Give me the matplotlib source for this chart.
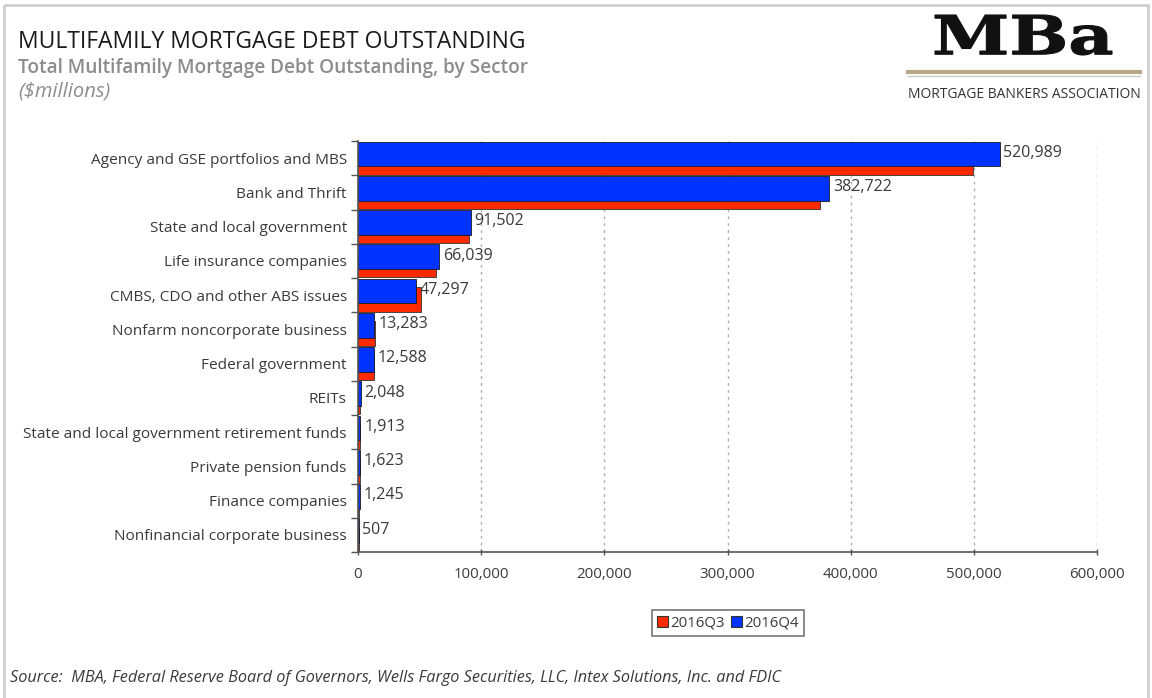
import matplotlib
matplotlib.use("Agg")
import matplotlib.pyplot as plt
from matplotlib.patches import Rectangle, PathPatch
from matplotlib.lines import Line2D
from matplotlib.textpath import TextPath
from matplotlib.font_manager import FontProperties
from matplotlib.transforms import Affine2D
import numpy as np

plt.rcParams['font.family'] = ['Open Sans', 'DejaVu Sans']

sectors = [
    "Agency and GSE portfolios and MBS",
    "Bank and Thrift",
    "State and local government",
    "Life insurance companies",
    "CMBS, CDO and other ABS issues",
    "Nonfarm noncorporate business",
    "Federal government",
    "REITs",
    "State and local government retirement funds",
    "Private pension funds",
    "Finance companies",
    "Nonfinancial corporate business",
]
q3_2016 = [499500, 374800, 90500, 63500, 51500, 13700, 12700, 1950, 1900, 1650, 1200, 500]
q4_2016 = [520989, 382722, 91502, 66039, 47297, 13283, 12588, 2048, 1913, 1623, 1245, 507]
series_names = ["2016Q3", "2016Q4"]
x_ticks = [0, 100000, 200000, 300000, 400000, 500000, 600000]

RED = "#ff2a00"
BLUE = "#0033ff"
TEXT = "#3a3a3a"

W, H = 1152, 698
fig = plt.figure(figsize=(W / 100, H / 100), dpi=100)
fig.patch.set_facecolor("white")

# outer frame, pixel coordinates with y pointing down
frame = fig.add_axes([0, 0, 1, 1])
frame.set_xlim(0, W)
frame.set_ylim(H, 0)
frame.axis("off")
frame.add_patch(Rectangle((4, 5), 1144, 700, fill=False, edgecolor="#cfcfcf", lw=2))

# plot area
x0, x1, ytop, ybot = 358, 1097, 141, 552
ax = fig.add_axes([x0 / W, 1 - ybot / H, (x1 - x0) / W, (ybot - ytop) / H])

n = len(sectors)
pos = np.arange(n)
h = 0.72
ax.barh(pos + 0.12, q3_2016, height=h, color=RED, edgecolor="#333333", lw=0.6, zorder=2)
ax.barh(pos - 0.12, q4_2016, height=h, color=BLUE, edgecolor="#1a1a1a", lw=0.6, zorder=3)

for p, v in zip(pos, q4_2016):
    ax.text(v + 3000, p - 0.15, f"{v:,}", va="center", ha="left", fontsize=11.5, color=TEXT, zorder=4)

ax.set_ylim(n - 0.5, -0.5)
ax.set_xlim(0, 600000)
ax.set_xticks(x_ticks)
ax.set_xticklabels([f"{t:,}" for t in x_ticks], fontsize=10.8, color=TEXT)
ax.set_yticks(np.arange(n + 1) - 0.5, minor=False)
ax.set_yticklabels([])
ax.set_yticks(pos, minor=True)
ax.set_yticklabels(sectors, minor=True, fontsize=11.1, color=TEXT)
ax.tick_params(axis="y", which="minor", length=0, pad=8)
ax.tick_params(axis="y", which="major", length=5, width=1, color="#555555")
ax.tick_params(axis="x", length=5, width=1, color="#555555", direction="inout", pad=8)

for t in x_ticks[1:]:
    ax.axvline(t, color="#b0b0b0", lw=1, ls=(0, (2, 3)), zorder=1)

for s in ["top", "right"]:
    ax.spines[s].set_visible(False)
for s in ["left", "bottom"]:
    ax.spines[s].set_color("#555555")
    ax.spines[s].set_linewidth(1.2)
    ax.spines[s].set_zorder(5)

# legend
handles = [Rectangle((0, 0), 1, 1, facecolor=RED, edgecolor="#333333", lw=0.8),
           Rectangle((0, 0), 1, 1, facecolor=BLUE, edgecolor="#333333", lw=0.8)]
leg = fig.legend(handles, series_names, loc="center", bbox_to_anchor=(728 / W, 1 - 623 / H),
                 ncol=2, fontsize=10.8, frameon=True, fancybox=False, handlelength=0.7,
                 handleheight=0.7, handletextpad=0.2, columnspacing=0.4, borderpad=0.35)
leg.get_frame().set_edgecolor("#555555")
leg.get_frame().set_linewidth(1.2)
for t in leg.get_texts():
    t.set_color(TEXT)

# headings
frame.text(18, 42, "MULTIFAMILY MORTGAGE DEBT OUTSTANDING", fontsize=16.5, color="#1a1a1a",
           va="center", ha="left")
frame.text(18, 68, "Total Multifamily Mortgage Debt Outstanding, by Sector", fontsize=13.7,
           color="#8c8c8c", va="center", ha="left", fontweight="semibold")
frame.text(18, 92, "($millions)", fontsize=14.5, color="#8c8c8c", va="center", ha="left", style="italic")

# logo wordmark, fitted into its box
logo = TextPath((0, 0), "MBa", size=100, prop=FontProperties(family="DejaVu Serif", weight="bold"))
bb = logo.get_extents()
lx0, lx1, ly0, ly1 = 935, 1112, 15, 55
tr = (Affine2D().translate(-bb.x0, -bb.y0)
      .scale((lx1 - lx0) / bb.width, -(ly1 - ly0) / bb.height)
      .translate(lx0, ly1))
frame.add_patch(PathPatch(tr.transform_path(logo), facecolor="#111111", edgecolor="#111111", lw=0.8))
frame.add_line(Line2D([908, 1140], [72, 72], color="#b8a888", lw=3))
frame.add_line(Line2D([908, 1140], [76, 76], color="#c8c8c8", lw=1))
frame.text(1024, 95, "MORTGAGE BANKERS ASSOCIATION", fontsize=10, color="#333333",
           va="center", ha="center")

frame.text(10, 678, "Source:  MBA, Federal Reserve Board of Governors, Wells Fargo Securities, LLC, "
           "Intex Solutions, Inc. and FDIC", fontsize=11.7, style="italic", color=TEXT,
           va="center", ha="left")

fig.savefig("out.png", dpi=100, facecolor="white")
